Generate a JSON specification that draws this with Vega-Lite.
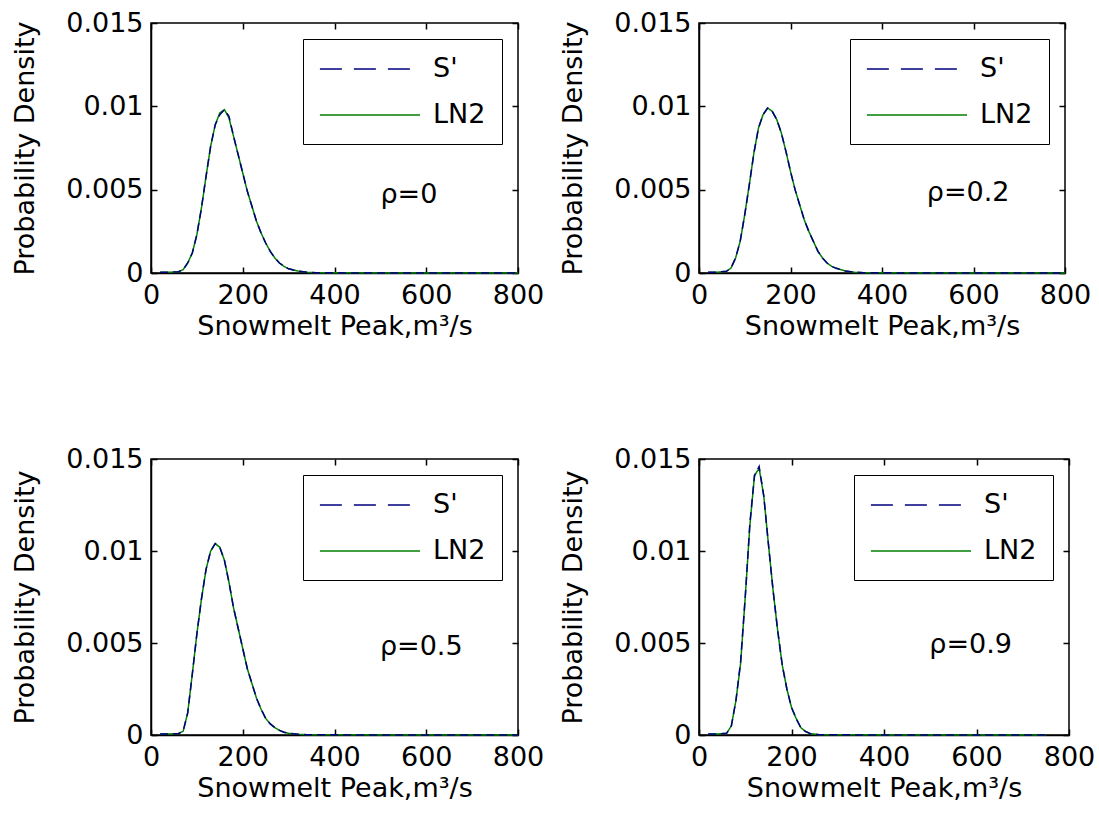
{
  "$schema": "https://vega.github.io/schema/vega-lite/v6.json",
  "background": "white",
  "padding": {"left": 10, "top": 8, "right": 5, "bottom": 5},
  "datasets": {
    "d": [
      {"p": "0", "x": 20, "Sp": 0.00005, "LN2": 0.00005},
      {"p": "0", "x": 40, "Sp": 0.00005, "LN2": 0.00005},
      {"p": "0", "x": 60, "Sp": 0.00008, "LN2": 0.00008},
      {"p": "0", "x": 70, "Sp": 0.0002, "LN2": 0.0002},
      {"p": "0", "x": 80, "Sp": 0.0006, "LN2": 0.0006},
      {"p": "0", "x": 90, "Sp": 0.0012, "LN2": 0.0012},
      {"p": "0", "x": 100, "Sp": 0.0023, "LN2": 0.0023},
      {"p": "0", "x": 110, "Sp": 0.0039, "LN2": 0.0039},
      {"p": "0", "x": 120, "Sp": 0.0058, "LN2": 0.0058},
      {"p": "0", "x": 130, "Sp": 0.0076, "LN2": 0.0076},
      {"p": "0", "x": 140, "Sp": 0.0089, "LN2": 0.0089},
      {"p": "0", "x": 150, "Sp": 0.0095, "LN2": 0.0096},
      {"p": "0", "x": 160, "Sp": 0.0098, "LN2": 0.0098},
      {"p": "0", "x": 170, "Sp": 0.0094, "LN2": 0.0093},
      {"p": "0", "x": 180, "Sp": 0.0082, "LN2": 0.0082},
      {"p": "0", "x": 190, "Sp": 0.0071, "LN2": 0.0071},
      {"p": "0", "x": 200, "Sp": 0.0060, "LN2": 0.0060},
      {"p": "0", "x": 210, "Sp": 0.0049, "LN2": 0.0049},
      {"p": "0", "x": 220, "Sp": 0.0040, "LN2": 0.0040},
      {"p": "0", "x": 230, "Sp": 0.0031, "LN2": 0.0031},
      {"p": "0", "x": 240, "Sp": 0.0024, "LN2": 0.0024},
      {"p": "0", "x": 250, "Sp": 0.0018, "LN2": 0.0018},
      {"p": "0", "x": 260, "Sp": 0.0013, "LN2": 0.0013},
      {"p": "0", "x": 270, "Sp": 0.0009, "LN2": 0.0009},
      {"p": "0", "x": 280, "Sp": 0.0006, "LN2": 0.0006},
      {"p": "0", "x": 290, "Sp": 0.0004, "LN2": 0.0004},
      {"p": "0", "x": 300, "Sp": 0.00025, "LN2": 0.00025},
      {"p": "0", "x": 320, "Sp": 0.00012, "LN2": 0.00012},
      {"p": "0", "x": 340, "Sp": 0.00005, "LN2": 0.00005},
      {"p": "0", "x": 360, "Sp": 0.00002, "LN2": 0.00002},
      {"p": "0", "x": 400, "Sp": 0.00001, "LN2": 0.00001},
      {"p": "0", "x": 500, "Sp": 0, "LN2": 0},
      {"p": "0", "x": 600, "Sp": 0, "LN2": 0},
      {"p": "0", "x": 700, "Sp": 0, "LN2": 0},
      {"p": "0", "x": 800, "Sp": 0, "LN2": 0},

      {"p": "0.2", "x": 20, "Sp": 0.00005, "LN2": 0.00005},
      {"p": "0.2", "x": 40, "Sp": 0.00005, "LN2": 0.00005},
      {"p": "0.2", "x": 60, "Sp": 0.0001, "LN2": 0.0001},
      {"p": "0.2", "x": 70, "Sp": 0.0003, "LN2": 0.0003},
      {"p": "0.2", "x": 80, "Sp": 0.0009, "LN2": 0.0009},
      {"p": "0.2", "x": 90, "Sp": 0.0019, "LN2": 0.0019},
      {"p": "0.2", "x": 100, "Sp": 0.0035, "LN2": 0.0035},
      {"p": "0.2", "x": 110, "Sp": 0.0053, "LN2": 0.0053},
      {"p": "0.2", "x": 120, "Sp": 0.0072, "LN2": 0.0072},
      {"p": "0.2", "x": 130, "Sp": 0.0087, "LN2": 0.0087},
      {"p": "0.2", "x": 140, "Sp": 0.0095, "LN2": 0.0095},
      {"p": "0.2", "x": 150, "Sp": 0.0099, "LN2": 0.0099},
      {"p": "0.2", "x": 160, "Sp": 0.0097, "LN2": 0.0097},
      {"p": "0.2", "x": 170, "Sp": 0.0092, "LN2": 0.0092},
      {"p": "0.2", "x": 180, "Sp": 0.0084, "LN2": 0.0084},
      {"p": "0.2", "x": 190, "Sp": 0.0073, "LN2": 0.0073},
      {"p": "0.2", "x": 200, "Sp": 0.0061, "LN2": 0.0061},
      {"p": "0.2", "x": 210, "Sp": 0.0050, "LN2": 0.0050},
      {"p": "0.2", "x": 220, "Sp": 0.0041, "LN2": 0.0041},
      {"p": "0.2", "x": 230, "Sp": 0.0032, "LN2": 0.0032},
      {"p": "0.2", "x": 240, "Sp": 0.0025, "LN2": 0.0025},
      {"p": "0.2", "x": 250, "Sp": 0.0019, "LN2": 0.0019},
      {"p": "0.2", "x": 260, "Sp": 0.0013, "LN2": 0.0013},
      {"p": "0.2", "x": 270, "Sp": 0.0009, "LN2": 0.0009},
      {"p": "0.2", "x": 280, "Sp": 0.0006, "LN2": 0.0006},
      {"p": "0.2", "x": 290, "Sp": 0.0004, "LN2": 0.0004},
      {"p": "0.2", "x": 300, "Sp": 0.00028, "LN2": 0.00028},
      {"p": "0.2", "x": 320, "Sp": 0.00012, "LN2": 0.00012},
      {"p": "0.2", "x": 340, "Sp": 0.00005, "LN2": 0.00005},
      {"p": "0.2", "x": 360, "Sp": 0.00002, "LN2": 0.00002},
      {"p": "0.2", "x": 400, "Sp": 0.00001, "LN2": 0.00001},
      {"p": "0.2", "x": 500, "Sp": 0, "LN2": 0},
      {"p": "0.2", "x": 600, "Sp": 0, "LN2": 0},
      {"p": "0.2", "x": 700, "Sp": 0, "LN2": 0},
      {"p": "0.2", "x": 800, "Sp": 0, "LN2": 0},

      {"p": "0.5", "x": 20, "Sp": 0.00005, "LN2": 0.00005},
      {"p": "0.5", "x": 40, "Sp": 0.00005, "LN2": 0.00005},
      {"p": "0.5", "x": 60, "Sp": 0.00008, "LN2": 0.00008},
      {"p": "0.5", "x": 70, "Sp": 0.0002, "LN2": 0.0002},
      {"p": "0.5", "x": 80, "Sp": 0.0012, "LN2": 0.0012},
      {"p": "0.5", "x": 90, "Sp": 0.0033, "LN2": 0.0033},
      {"p": "0.5", "x": 100, "Sp": 0.0055, "LN2": 0.0055},
      {"p": "0.5", "x": 110, "Sp": 0.0074, "LN2": 0.0074},
      {"p": "0.5", "x": 120, "Sp": 0.0090, "LN2": 0.0090},
      {"p": "0.5", "x": 130, "Sp": 0.0100, "LN2": 0.0100},
      {"p": "0.5", "x": 140, "Sp": 0.0104, "LN2": 0.0104},
      {"p": "0.5", "x": 150, "Sp": 0.0102, "LN2": 0.0102},
      {"p": "0.5", "x": 160, "Sp": 0.0095, "LN2": 0.0095},
      {"p": "0.5", "x": 170, "Sp": 0.0083, "LN2": 0.0083},
      {"p": "0.5", "x": 180, "Sp": 0.0069, "LN2": 0.0069},
      {"p": "0.5", "x": 190, "Sp": 0.0058, "LN2": 0.0058},
      {"p": "0.5", "x": 200, "Sp": 0.0047, "LN2": 0.0047},
      {"p": "0.5", "x": 210, "Sp": 0.0036, "LN2": 0.0036},
      {"p": "0.5", "x": 220, "Sp": 0.0028, "LN2": 0.0028},
      {"p": "0.5", "x": 230, "Sp": 0.0020, "LN2": 0.0020},
      {"p": "0.5", "x": 240, "Sp": 0.0014, "LN2": 0.0014},
      {"p": "0.5", "x": 250, "Sp": 0.0009, "LN2": 0.0009},
      {"p": "0.5", "x": 260, "Sp": 0.0006, "LN2": 0.0006},
      {"p": "0.5", "x": 270, "Sp": 0.0004, "LN2": 0.0004},
      {"p": "0.5", "x": 280, "Sp": 0.00025, "LN2": 0.00025},
      {"p": "0.5", "x": 290, "Sp": 0.00015, "LN2": 0.00015},
      {"p": "0.5", "x": 300, "Sp": 0.0001, "LN2": 0.0001},
      {"p": "0.5", "x": 320, "Sp": 0.00004, "LN2": 0.00004},
      {"p": "0.5", "x": 340, "Sp": 0.00002, "LN2": 0.00002},
      {"p": "0.5", "x": 400, "Sp": 0.00001, "LN2": 0.00001},
      {"p": "0.5", "x": 500, "Sp": 0, "LN2": 0},
      {"p": "0.5", "x": 600, "Sp": 0, "LN2": 0},
      {"p": "0.5", "x": 700, "Sp": 0, "LN2": 0},
      {"p": "0.5", "x": 800, "Sp": 0, "LN2": 0},

      {"p": "0.9", "x": 20, "Sp": 0.00005, "LN2": 0.00005},
      {"p": "0.9", "x": 40, "Sp": 0.00005, "LN2": 0.00005},
      {"p": "0.9", "x": 60, "Sp": 0.0001, "LN2": 0.0001},
      {"p": "0.9", "x": 70, "Sp": 0.0005, "LN2": 0.0005},
      {"p": "0.9", "x": 80, "Sp": 0.0019, "LN2": 0.0019},
      {"p": "0.9", "x": 90, "Sp": 0.0040, "LN2": 0.0039},
      {"p": "0.9", "x": 100, "Sp": 0.0075, "LN2": 0.0075},
      {"p": "0.9", "x": 110, "Sp": 0.0115, "LN2": 0.0114},
      {"p": "0.9", "x": 120, "Sp": 0.0141, "LN2": 0.0141},
      {"p": "0.9", "x": 130, "Sp": 0.0146, "LN2": 0.0145},
      {"p": "0.9", "x": 140, "Sp": 0.0130, "LN2": 0.0130},
      {"p": "0.9", "x": 150, "Sp": 0.0104, "LN2": 0.0104},
      {"p": "0.9", "x": 160, "Sp": 0.0079, "LN2": 0.0079},
      {"p": "0.9", "x": 170, "Sp": 0.0057, "LN2": 0.0057},
      {"p": "0.9", "x": 180, "Sp": 0.0038, "LN2": 0.0038},
      {"p": "0.9", "x": 190, "Sp": 0.0025, "LN2": 0.0025},
      {"p": "0.9", "x": 200, "Sp": 0.0015, "LN2": 0.0015},
      {"p": "0.9", "x": 210, "Sp": 0.0009, "LN2": 0.0009},
      {"p": "0.9", "x": 220, "Sp": 0.0004, "LN2": 0.0004},
      {"p": "0.9", "x": 230, "Sp": 0.0002, "LN2": 0.0002},
      {"p": "0.9", "x": 240, "Sp": 0.00008, "LN2": 0.00008},
      {"p": "0.9", "x": 260, "Sp": 0.00002, "LN2": 0.00002},
      {"p": "0.9", "x": 300, "Sp": 0.00001, "LN2": 0.00001},
      {"p": "0.9", "x": 400, "Sp": 0, "LN2": 0},
      {"p": "0.9", "x": 500, "Sp": 0, "LN2": 0},
      {"p": "0.9", "x": 600, "Sp": 0, "LN2": 0},
      {"p": "0.9", "x": 700, "Sp": 0, "LN2": 0},
      {"p": "0.9", "x": 750, "Sp": 0, "LN2": 0}
    ]
  },
  "config": {
    "font": "DejaVu Sans",
    "view": {"stroke": "black", "strokeWidth": 1.5},
    "axis": {
      "labelFont": "DejaVu Sans", "labelFontSize": 27, "labelColor": "black", "labelFlush": false,
      "titleFont": "DejaVu Sans", "titleFontSize": 27, "titleFontWeight": "normal", "titleColor": "black",
      "tickColor": "black", "domainColor": "black", "domainWidth": 1.5, "tickWidth": 1.5,
      "grid": false, "tickSize": -6
    },
    "axisX": {"labelPadding": 15, "titlePadding": 5},
    "axisY": {"labelPadding": 14, "titlePadding": 26},
    "legend": {
      "orient": "top-right", "offset": 16, "title": null,
      "strokeColor": "black", "fillColor": "white", "padding": 16,
      "labelFont": "DejaVu Sans", "labelFontSize": 27, "labelColor": "black", "labelLimit": 0,
      "symbolType": "M-6.7,0H1", "symbolSize": 676, "symbolOffset": 74, "labelOffset": 12,
      "symbolStrokeWidth": 1.5, "rowPadding": 19
    }
  },
  "columns": 2,
  "bounds": "flush",
  "align": "each",
  "spacing": {"row": 186, "column": 181},
  "resolve": {"scale": {"color": "independent"}, "legend": {"color": "independent"}},
  "concat": [
    {
      "width": 367, "height": 250,
      "layer": [
        {
          "data": {"name": "d"},
          "transform": [{"filter": "datum.p == '0'"}, {"fold": ["LN2", "Sp"], "as": ["series", "y"]}, {"filter": "datum.series == 'LN2'"}],
          "mark": {"type": "line", "strokeWidth": 1.5},
          "encoding": {
            "x": {"field": "x", "type": "quantitative", "scale": {"domain": [0, 800], "nice": false, "zero": false}, "axis": {"values": [0, 200, 400, 600, 800], "format": "d", "title": "Snowmelt Peak,m³/s"}},
            "y": {"field": "y", "type": "quantitative", "scale": {"domain": [0, 0.015], "nice": false}, "axis": {"values": [0, 0.005, 0.01, 0.015], "format": ".3~f", "title": "Probability Density"}},
            "color": {"field": "series", "type": "nominal", "scale": {"domain": ["Sp", "LN2"], "range": ["#00007f", "#008000"]}, "legend": {"labelExpr": "datum.value == 'Sp' ? \"S'\" : 'LN2  '", "encode": {"symbols": {"update": {"strokeDash": {"signal": "datum.value == 'Sp' ? [22, 12] : [1, 0]"}}}}}}
          }
        },
        {
          "data": {"name": "d"},
          "transform": [{"filter": "datum.p == '0'"}, {"fold": ["LN2", "Sp"], "as": ["series", "y"]}, {"filter": "datum.series == 'Sp'"}],
          "mark": {"type": "line", "strokeWidth": 1.5, "strokeDash": [8, 5]},
          "encoding": {
            "x": {"field": "x", "type": "quantitative", "axis": null},
            "y": {"field": "y", "type": "quantitative", "axis": null},
            "color": {"field": "series", "type": "nominal"}
          }
        },
        {
          "data": {"values": [{}]},
          "mark": {"type": "text", "text": "ρ=0", "align": "left", "baseline": "middle", "fontSize": 27, "font": "DejaVu Sans", "color": "black"},
          "encoding": {
            "x": {"datum": 500, "type": "quantitative", "axis": {"orient": "top", "labels": false, "title": null, "domain": false, "values": [0, 200, 400, 600, 800]}},
            "y": {"datum": 0.0047, "type": "quantitative", "axis": {"orient": "right", "labels": false, "title": null, "domain": false, "values": [0, 0.005, 0.01, 0.015]}}
          }
        }
      ],
      "resolve": {"axis": {"x": "independent", "y": "independent"}}
    },
    {
      "width": 366, "height": 250,
      "layer": [
        {
          "data": {"name": "d"},
          "transform": [{"filter": "datum.p == '0.2'"}, {"fold": ["LN2", "Sp"], "as": ["series", "y"]}, {"filter": "datum.series == 'LN2'"}],
          "mark": {"type": "line", "strokeWidth": 1.5},
          "encoding": {
            "x": {"field": "x", "type": "quantitative", "scale": {"domain": [0, 800], "nice": false, "zero": false}, "axis": {"values": [0, 200, 400, 600, 800], "format": "d", "title": "Snowmelt Peak,m³/s"}},
            "y": {"field": "y", "type": "quantitative", "scale": {"domain": [0, 0.015], "nice": false}, "axis": {"values": [0, 0.005, 0.01, 0.015], "format": ".3~f", "title": "Probability Density"}},
            "color": {"field": "series", "type": "nominal", "scale": {"domain": ["Sp", "LN2"], "range": ["#00007f", "#008000"]}, "legend": {"labelExpr": "datum.value == 'Sp' ? \"S'\" : 'LN2  '", "encode": {"symbols": {"update": {"strokeDash": {"signal": "datum.value == 'Sp' ? [22, 12] : [1, 0]"}}}}}}
          }
        },
        {
          "data": {"name": "d"},
          "transform": [{"filter": "datum.p == '0.2'"}, {"fold": ["LN2", "Sp"], "as": ["series", "y"]}, {"filter": "datum.series == 'Sp'"}],
          "mark": {"type": "line", "strokeWidth": 1.5, "strokeDash": [8, 5]},
          "encoding": {
            "x": {"field": "x", "type": "quantitative", "axis": null},
            "y": {"field": "y", "type": "quantitative", "axis": null},
            "color": {"field": "series", "type": "nominal"}
          }
        },
        {
          "data": {"values": [{}]},
          "mark": {"type": "text", "text": "ρ=0.2", "align": "left", "baseline": "middle", "fontSize": 27, "font": "DejaVu Sans", "color": "black"},
          "encoding": {
            "x": {"datum": 498, "type": "quantitative", "axis": {"orient": "top", "labels": false, "title": null, "domain": false, "values": [0, 200, 400, 600, 800]}},
            "y": {"datum": 0.0048, "type": "quantitative", "axis": {"orient": "right", "labels": false, "title": null, "domain": false, "values": [0, 0.005, 0.01, 0.015]}}
          }
        }
      ],
      "resolve": {"axis": {"x": "independent", "y": "independent"}}
    },
    {
      "width": 367, "height": 276,
      "layer": [
        {
          "data": {"name": "d"},
          "transform": [{"filter": "datum.p == '0.5'"}, {"fold": ["LN2", "Sp"], "as": ["series", "y"]}, {"filter": "datum.series == 'LN2'"}],
          "mark": {"type": "line", "strokeWidth": 1.5},
          "encoding": {
            "x": {"field": "x", "type": "quantitative", "scale": {"domain": [0, 800], "nice": false, "zero": false}, "axis": {"values": [0, 200, 400, 600, 800], "format": "d", "title": "Snowmelt Peak,m³/s"}},
            "y": {"field": "y", "type": "quantitative", "scale": {"domain": [0, 0.015], "nice": false}, "axis": {"values": [0, 0.005, 0.01, 0.015], "format": ".3~f", "title": "Probability Density"}},
            "color": {"field": "series", "type": "nominal", "scale": {"domain": ["Sp", "LN2"], "range": ["#00007f", "#008000"]}, "legend": {"labelExpr": "datum.value == 'Sp' ? \"S'\" : 'LN2  '", "encode": {"symbols": {"update": {"strokeDash": {"signal": "datum.value == 'Sp' ? [22, 12] : [1, 0]"}}}}}}
          }
        },
        {
          "data": {"name": "d"},
          "transform": [{"filter": "datum.p == '0.5'"}, {"fold": ["LN2", "Sp"], "as": ["series", "y"]}, {"filter": "datum.series == 'Sp'"}],
          "mark": {"type": "line", "strokeWidth": 1.5, "strokeDash": [8, 5]},
          "encoding": {
            "x": {"field": "x", "type": "quantitative", "axis": null},
            "y": {"field": "y", "type": "quantitative", "axis": null},
            "color": {"field": "series", "type": "nominal"}
          }
        },
        {
          "data": {"values": [{}]},
          "mark": {"type": "text", "text": "ρ=0.5", "align": "left", "baseline": "middle", "fontSize": 27, "font": "DejaVu Sans", "color": "black"},
          "encoding": {
            "x": {"datum": 499, "type": "quantitative", "axis": {"orient": "top", "labels": false, "title": null, "domain": false, "values": [0, 200, 400, 600, 800]}},
            "y": {"datum": 0.0048, "type": "quantitative", "axis": {"orient": "right", "labels": false, "title": null, "domain": false, "values": [0, 0.005, 0.01, 0.015]}}
          }
        }
      ],
      "resolve": {"axis": {"x": "independent", "y": "independent"}}
    },
    {
      "width": 370, "height": 276,
      "layer": [
        {
          "data": {"name": "d"},
          "transform": [{"filter": "datum.p == '0.9'"}, {"fold": ["LN2", "Sp"], "as": ["series", "y"]}, {"filter": "datum.series == 'LN2'"}],
          "mark": {"type": "line", "strokeWidth": 1.5},
          "encoding": {
            "x": {"field": "x", "type": "quantitative", "scale": {"domain": [0, 800], "nice": false, "zero": false}, "axis": {"values": [0, 200, 400, 600, 800], "format": "d", "title": "Snowmelt Peak,m³/s"}},
            "y": {"field": "y", "type": "quantitative", "scale": {"domain": [0, 0.015], "nice": false}, "axis": {"values": [0, 0.005, 0.01, 0.015], "format": ".3~f", "title": "Probability Density"}},
            "color": {"field": "series", "type": "nominal", "scale": {"domain": ["Sp", "LN2"], "range": ["#00007f", "#008000"]}, "legend": {"labelExpr": "datum.value == 'Sp' ? \"S'\" : 'LN2  '", "encode": {"symbols": {"update": {"strokeDash": {"signal": "datum.value == 'Sp' ? [22, 12] : [1, 0]"}}}}}}
          }
        },
        {
          "data": {"name": "d"},
          "transform": [{"filter": "datum.p == '0.9'"}, {"fold": ["LN2", "Sp"], "as": ["series", "y"]}, {"filter": "datum.series == 'Sp'"}],
          "mark": {"type": "line", "strokeWidth": 1.5, "strokeDash": [8, 5]},
          "encoding": {
            "x": {"field": "x", "type": "quantitative", "axis": null},
            "y": {"field": "y", "type": "quantitative", "axis": null},
            "color": {"field": "series", "type": "nominal"}
          }
        },
        {
          "data": {"values": [{}]},
          "mark": {"type": "text", "text": "ρ=0.9", "align": "left", "baseline": "middle", "fontSize": 27, "font": "DejaVu Sans", "color": "black"},
          "encoding": {
            "x": {"datum": 498, "type": "quantitative", "axis": {"orient": "top", "labels": false, "title": null, "domain": false, "values": [0, 200, 400, 600, 800]}},
            "y": {"datum": 0.0049, "type": "quantitative", "axis": {"orient": "right", "labels": false, "title": null, "domain": false, "values": [0, 0.005, 0.01, 0.015]}}
          }
        }
      ],
      "resolve": {"axis": {"x": "independent", "y": "independent"}}
    }
  ]
}
